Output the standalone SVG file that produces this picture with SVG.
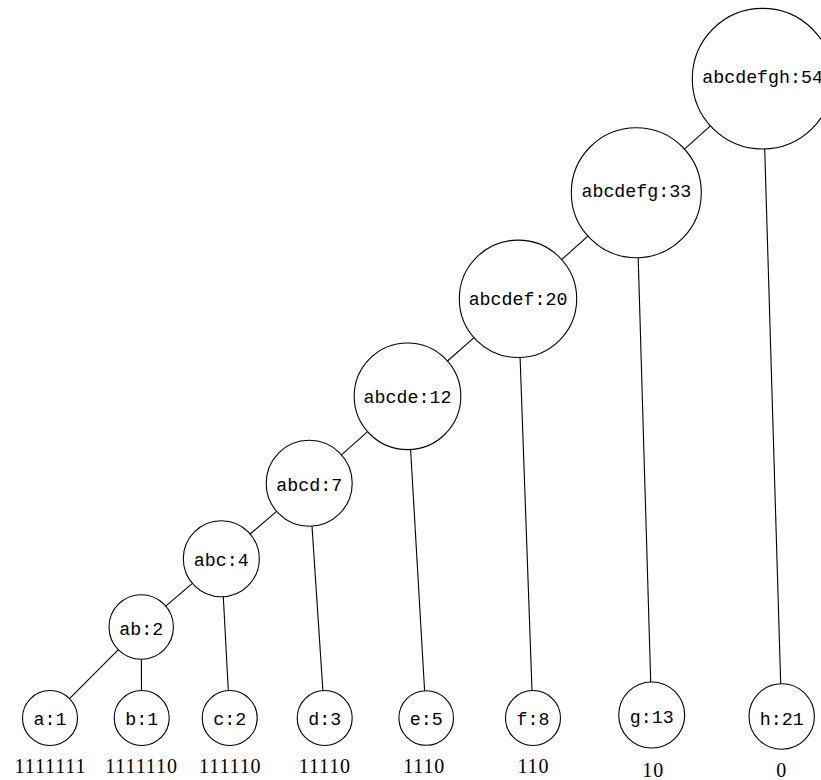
<svg xmlns="http://www.w3.org/2000/svg" width="821" height="780" viewBox="0 0 821 780">
<style>
  .n circle { fill: #fff; stroke: #000; stroke-width: 1.1; }
  .n text { font-family: "Liberation Mono", "DejaVu Sans Mono", monospace; font-size: 18.3px; text-anchor: middle; fill: #000; }
  .code { font-family: "Liberation Serif", "DejaVu Serif", serif; font-size: 20px; letter-spacing: 0.9px; text-anchor: middle; fill: #000; }
  #edges line { stroke: #000; stroke-width: 1.1; }
</style>
<rect width="821" height="780" fill="#fff"/>
<g id="edges">
  <line x1="710.4" y1="125.8" x2="684.5" y2="149.2"/>
  <line x1="764.7" y1="149.0" x2="780.7" y2="683.8"/>
  <line x1="587.9" y1="236.1" x2="561.7" y2="259.6"/>
  <line x1="638.2" y1="257.7" x2="650.7" y2="682.0"/>
  <line x1="474.0" y1="337.6" x2="447.5" y2="361.0"/>
  <line x1="520.1" y1="357.5" x2="532.0" y2="690.5"/>
  <line x1="367.6" y1="431.6" x2="341.4" y2="454.8"/>
  <line x1="410.6" y1="449.5" x2="424.6" y2="690.7"/>
  <line x1="276.6" y1="511.3" x2="250.1" y2="534.0"/>
  <line x1="312.0" y1="526.2" x2="322.9" y2="690.6"/>
  <line x1="192.4" y1="583.4" x2="165.7" y2="606.1"/>
  <line x1="223.3" y1="596.7" x2="228.3" y2="690.5"/>
  <line x1="118.4" y1="649.7" x2="69.5" y2="698.6"/>
  <line x1="141.4" y1="659.2" x2="141.5" y2="690.5"/>
</g>
<g id="n-abcdefgh" class="n"><circle cx="762.6" cy="78.7" r="70.3"/><text x="762.6" y="83.3">abcdefgh:54</text></g>
<g id="n-abcdefg" class="n"><circle cx="636.3" cy="192.7" r="65"/><text x="636.3" y="196.7">abcdefg:33</text></g>
<g id="n-abcdef" class="n"><circle cx="518" cy="298.8" r="58.7"/><text x="518" y="305">abcdef:20</text></g>
<g id="n-abcde" class="n"><circle cx="407.5" cy="396.3" r="53.3"/><text x="407.5" y="403.3">abcde:12</text></g>
<g id="n-abcd" class="n"><circle cx="309.2" cy="483.3" r="43"/><text x="309.2" y="490.7">abcd:7</text></g>
<g id="n-abc" class="n"><circle cx="221.3" cy="558.8" r="38"/><text x="221.3" y="566">abc:4</text></g>
<g id="n-ab" class="n"><circle cx="141.2" cy="627" r="32.2"/><text x="141.2" y="635">ab:2</text></g>
<g id="n-a" class="n"><circle cx="50" cy="718" r="27.5"/><text x="50" y="725">a:1</text></g>
<g id="n-b" class="n"><circle cx="141.7" cy="718" r="27.5"/><text x="141.7" y="725">b:1</text></g>
<g id="n-c" class="n"><circle cx="229.7" cy="718" r="27.5"/><text x="229.7" y="725">c:2</text></g>
<g id="n-d" class="n"><circle cx="324.7" cy="718" r="27.5"/><text x="324.7" y="725">d:3</text></g>
<g id="n-e" class="n"><circle cx="426.2" cy="718" r="27.3"/><text x="426.2" y="725">e:5</text></g>
<g id="n-f" class="n"><circle cx="533" cy="718" r="27.5"/><text x="533" y="725">f:8</text></g>
<g id="n-g" class="n"><circle cx="651.7" cy="715" r="33"/><text x="651.7" y="722.5">g:13</text></g>
<g id="n-h" class="n"><circle cx="781.7" cy="716.5" r="32.7"/><text x="781.7" y="724.5">h:21</text></g>
<g id="codes">
  <text class="code" x="50.5" y="772.7">1111111</text>
  <text class="code" x="141.5" y="772.7">1111110</text>
  <text class="code" x="230.3" y="772.7">111110</text>
  <text class="code" x="324.9" y="772.7">11110</text>
  <text class="code" x="424.2" y="772.7">1110</text>
  <text class="code" x="533.4" y="772.7">110</text>
  <text class="code" x="653.2" y="777">10</text>
  <text class="code" x="781.7" y="777">0</text>
</g>
</svg>
